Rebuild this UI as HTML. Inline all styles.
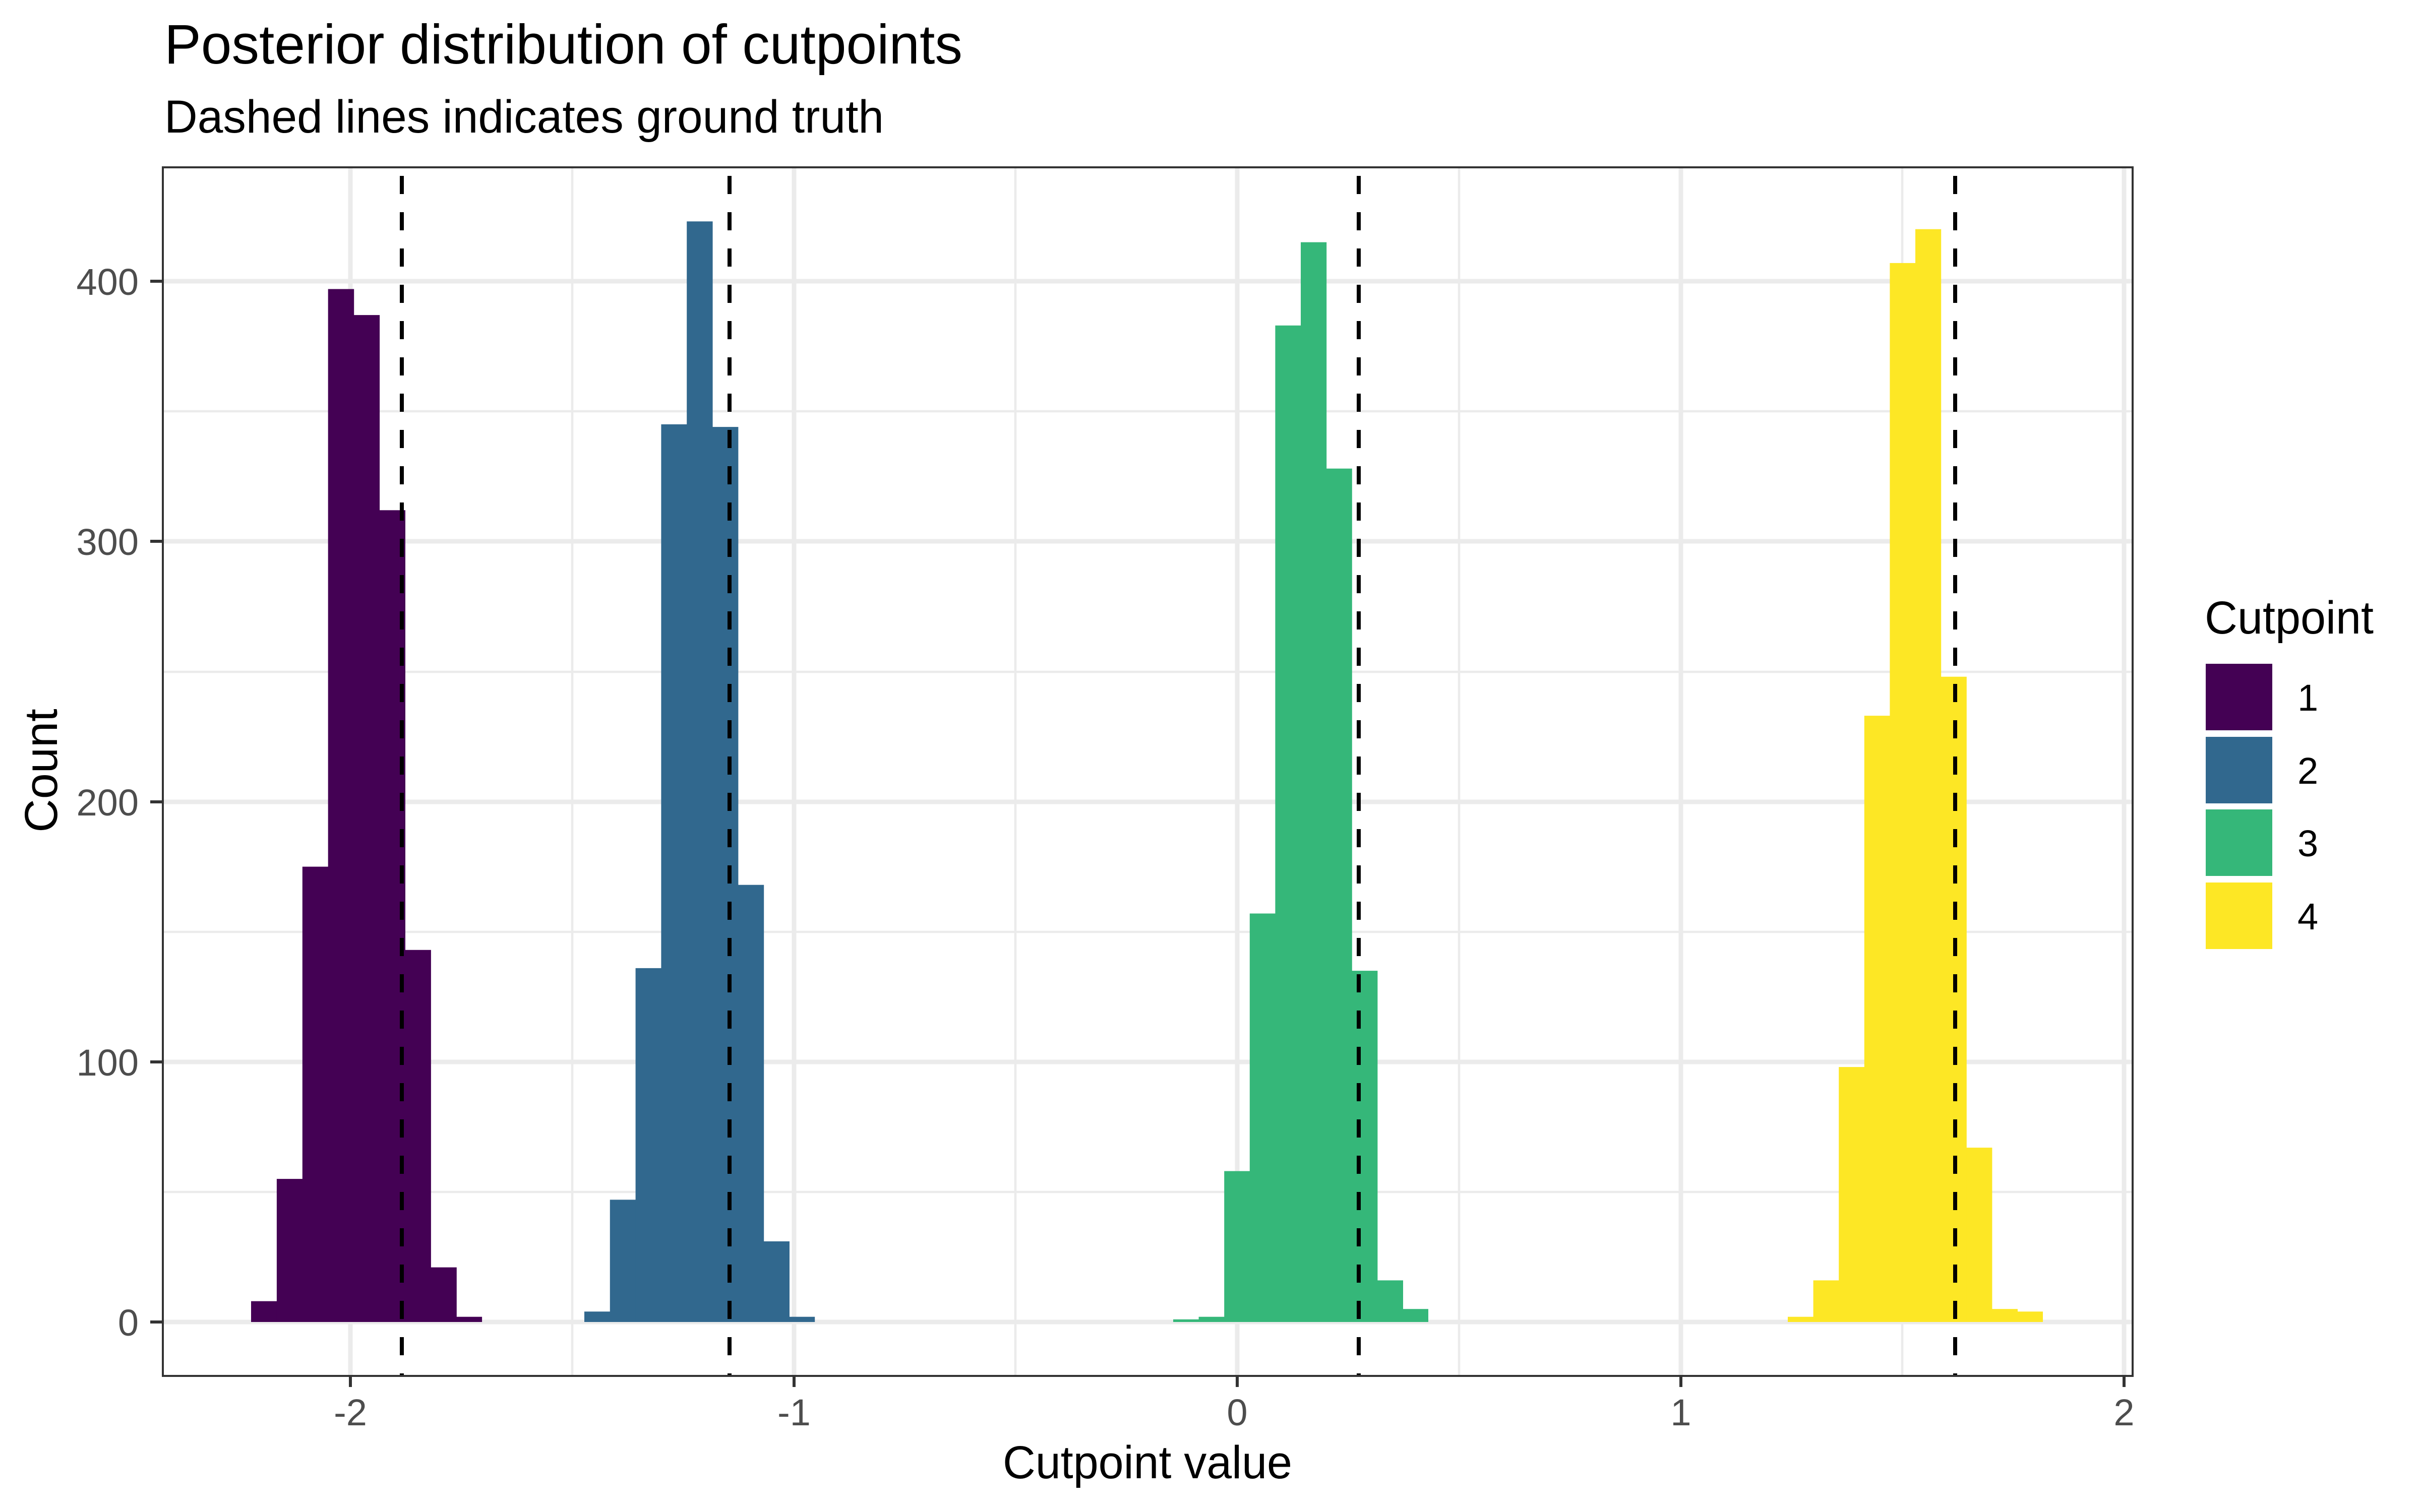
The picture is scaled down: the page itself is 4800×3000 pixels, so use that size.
<!DOCTYPE html>
<html><head><meta charset="utf-8"><style>html,body{margin:0;padding:0;background:#fff}svg{display:block}</style></head>
<body>
<svg width="4800" height="3000" viewBox="0 0 4800 3000" xmlns="http://www.w3.org/2000/svg" font-family="'Liberation Sans', Arial, sans-serif">
<rect width="4800" height="3000" fill="#fff"/>
<text x="326" y="126" font-size="110" fill="#000" textLength="1583" lengthAdjust="spacingAndGlyphs">Posterior distribution of cutpoints</text>
<text x="326" y="263" font-size="92" fill="#000" textLength="1427" lengthAdjust="spacingAndGlyphs">Dashed lines indicates ground truth</text>
<g stroke="#ebebeb" stroke-width="4.6">
<line x1="323" x2="4230" y1="2365" y2="2365"/><line x1="323" x2="4230" y1="1849" y2="1849"/><line x1="323" x2="4230" y1="1333" y2="1333"/><line x1="323" x2="4230" y1="816" y2="816"/>
<line x1="1135" x2="1135" y1="332" y2="2730"/><line x1="2014" x2="2014" y1="332" y2="2730"/><line x1="2894" x2="2894" y1="332" y2="2730"/><line x1="3773" x2="3773" y1="332" y2="2730"/>
</g>
<g stroke="#ebebeb" stroke-width="9">
<line x1="323" x2="4230" y1="2623" y2="2623"/><line x1="323" x2="4230" y1="2107" y2="2107"/><line x1="323" x2="4230" y1="1591" y2="1591"/><line x1="323" x2="4230" y1="1074" y2="1074"/><line x1="323" x2="4230" y1="558" y2="558"/>
<line x1="695" x2="695" y1="332" y2="2730"/><line x1="1575" x2="1575" y1="332" y2="2730"/><line x1="2454" x2="2454" y1="332" y2="2730"/><line x1="3334" x2="3334" y1="332" y2="2730"/><line x1="4213" x2="4213" y1="332" y2="2730"/>
</g>
<g fill="#440154">
<rect x="498" y="2581.7" width="51.5" height="41.3"/><rect x="548.9" y="2339.1" width="51.5" height="283.9"/><rect x="599.8" y="1719.6" width="51.5" height="903.4"/><rect x="650.7" y="573.5" width="51.5" height="2049.5"/><rect x="701.6" y="625.1" width="51.5" height="1997.9"/><rect x="752.5" y="1012.3" width="51.5" height="1610.7"/><rect x="803.4" y="1884.8" width="51.5" height="738.2"/><rect x="854.3" y="2514.6" width="51.5" height="108.4"/><rect x="905.2" y="2612.7" width="50.9" height="10.3"/>
</g>
<g fill="#31688e">
<rect x="1159" y="2602.3" width="51.4" height="20.7"/><rect x="1209.8" y="2380.4" width="51.4" height="242.6"/><rect x="1260.6" y="1920.9" width="51.4" height="702.1"/><rect x="1311.4" y="841.9" width="51.4" height="1781.1"/><rect x="1362.2" y="439.3" width="51.4" height="2183.7"/><rect x="1413" y="847.1" width="51.4" height="1775.9"/><rect x="1463.8" y="1755.7" width="51.4" height="867.3"/><rect x="1514.6" y="2463" width="51.4" height="160"/><rect x="1565.4" y="2612.7" width="50.8" height="10.3"/>
</g>
<g fill="#35b779">
<rect x="2327" y="2617.8" width="51.2" height="5.2"/><rect x="2377.6" y="2612.7" width="51.2" height="10.3"/><rect x="2428.2" y="2323.6" width="51.2" height="299.4"/><rect x="2478.8" y="1812.5" width="51.2" height="810.5"/><rect x="2529.4" y="645.8" width="51.2" height="1977.2"/><rect x="2580" y="480.6" width="51.2" height="2142.4"/><rect x="2630.6" y="929.7" width="51.2" height="1693.3"/><rect x="2681.2" y="1926.1" width="51.2" height="696.9"/><rect x="2731.8" y="2540.4" width="51.2" height="82.6"/><rect x="2782.4" y="2597.2" width="50.6" height="25.8"/>
</g>
<g fill="#fde725">
<rect x="3546" y="2612.7" width="51.2" height="10.3"/><rect x="3596.6" y="2540.4" width="51.2" height="82.6"/><rect x="3647.2" y="2117.1" width="51.2" height="505.9"/><rect x="3697.8" y="1420.1" width="51.2" height="1202.9"/><rect x="3748.4" y="521.9" width="51.2" height="2101.1"/><rect x="3799" y="454.7" width="51.2" height="2168.3"/><rect x="3849.6" y="1342.7" width="51.2" height="1280.3"/><rect x="3900.2" y="2277.1" width="51.2" height="345.9"/><rect x="3950.8" y="2597.2" width="51.2" height="25.8"/><rect x="4001.4" y="2602.3" width="50.6" height="20.7"/>
</g>
<g stroke="#000" stroke-width="8" stroke-dasharray="36 36">
<line x1="797" x2="797" y1="349" y2="2730"/><line x1="1447" x2="1447" y1="349" y2="2730"/><line x1="2695" x2="2695" y1="349" y2="2730"/><line x1="3878" x2="3878" y1="349" y2="2730"/>
</g>
<rect x="323" y="332" width="3907" height="2398" fill="none" stroke="#333" stroke-width="4"/>
<g stroke="#333" stroke-width="6">
<line x1="298" x2="323" y1="2623" y2="2623"/><line x1="298" x2="323" y1="2107" y2="2107"/><line x1="298" x2="323" y1="1591" y2="1591"/><line x1="298" x2="323" y1="1074" y2="1074"/><line x1="298" x2="323" y1="558" y2="558"/>
<line x1="695" x2="695" y1="2730" y2="2752"/><line x1="1575" x2="1575" y1="2730" y2="2752"/><line x1="2454" x2="2454" y1="2730" y2="2752"/><line x1="3334" x2="3334" y1="2730" y2="2752"/><line x1="4213" x2="4213" y1="2730" y2="2752"/>
</g>
<g font-size="74" fill="#4d4d4d" text-anchor="end">
<text x="275" y="2650">0</text><text x="275" y="2134">100</text><text x="275" y="1618">200</text><text x="275" y="1101">300</text><text x="275" y="585">400</text>
</g>
<g font-size="74" fill="#4d4d4d" text-anchor="middle">
<text x="695" y="2828">-2</text><text x="1575" y="2828">-1</text><text x="2454" y="2828">0</text><text x="3334" y="2828">1</text><text x="4213" y="2828">2</text>
</g>
<text x="1989" y="2933" font-size="92" fill="#000" textLength="574" lengthAdjust="spacingAndGlyphs">Cutpoint value</text>
<text transform="translate(113,1529) rotate(-90)" font-size="92" text-anchor="middle" fill="#000">Count</text>
<text x="4373" y="1257" font-size="92" fill="#000" textLength="335" lengthAdjust="spacingAndGlyphs">Cutpoint</text>
<rect x="4375" y="1317" width="132" height="132" fill="#440154"/>
<rect x="4375" y="1462" width="132" height="132" fill="#31688e"/>
<rect x="4375" y="1606" width="132" height="132" fill="#35b779"/>
<rect x="4375" y="1751" width="132" height="132" fill="#fde725"/>
<g font-size="74" fill="#000">
<text x="4557" y="1410">1</text><text x="4557" y="1555">2</text><text x="4557" y="1699">3</text><text x="4557" y="1844">4</text>
</g>
</svg>
</body></html>
